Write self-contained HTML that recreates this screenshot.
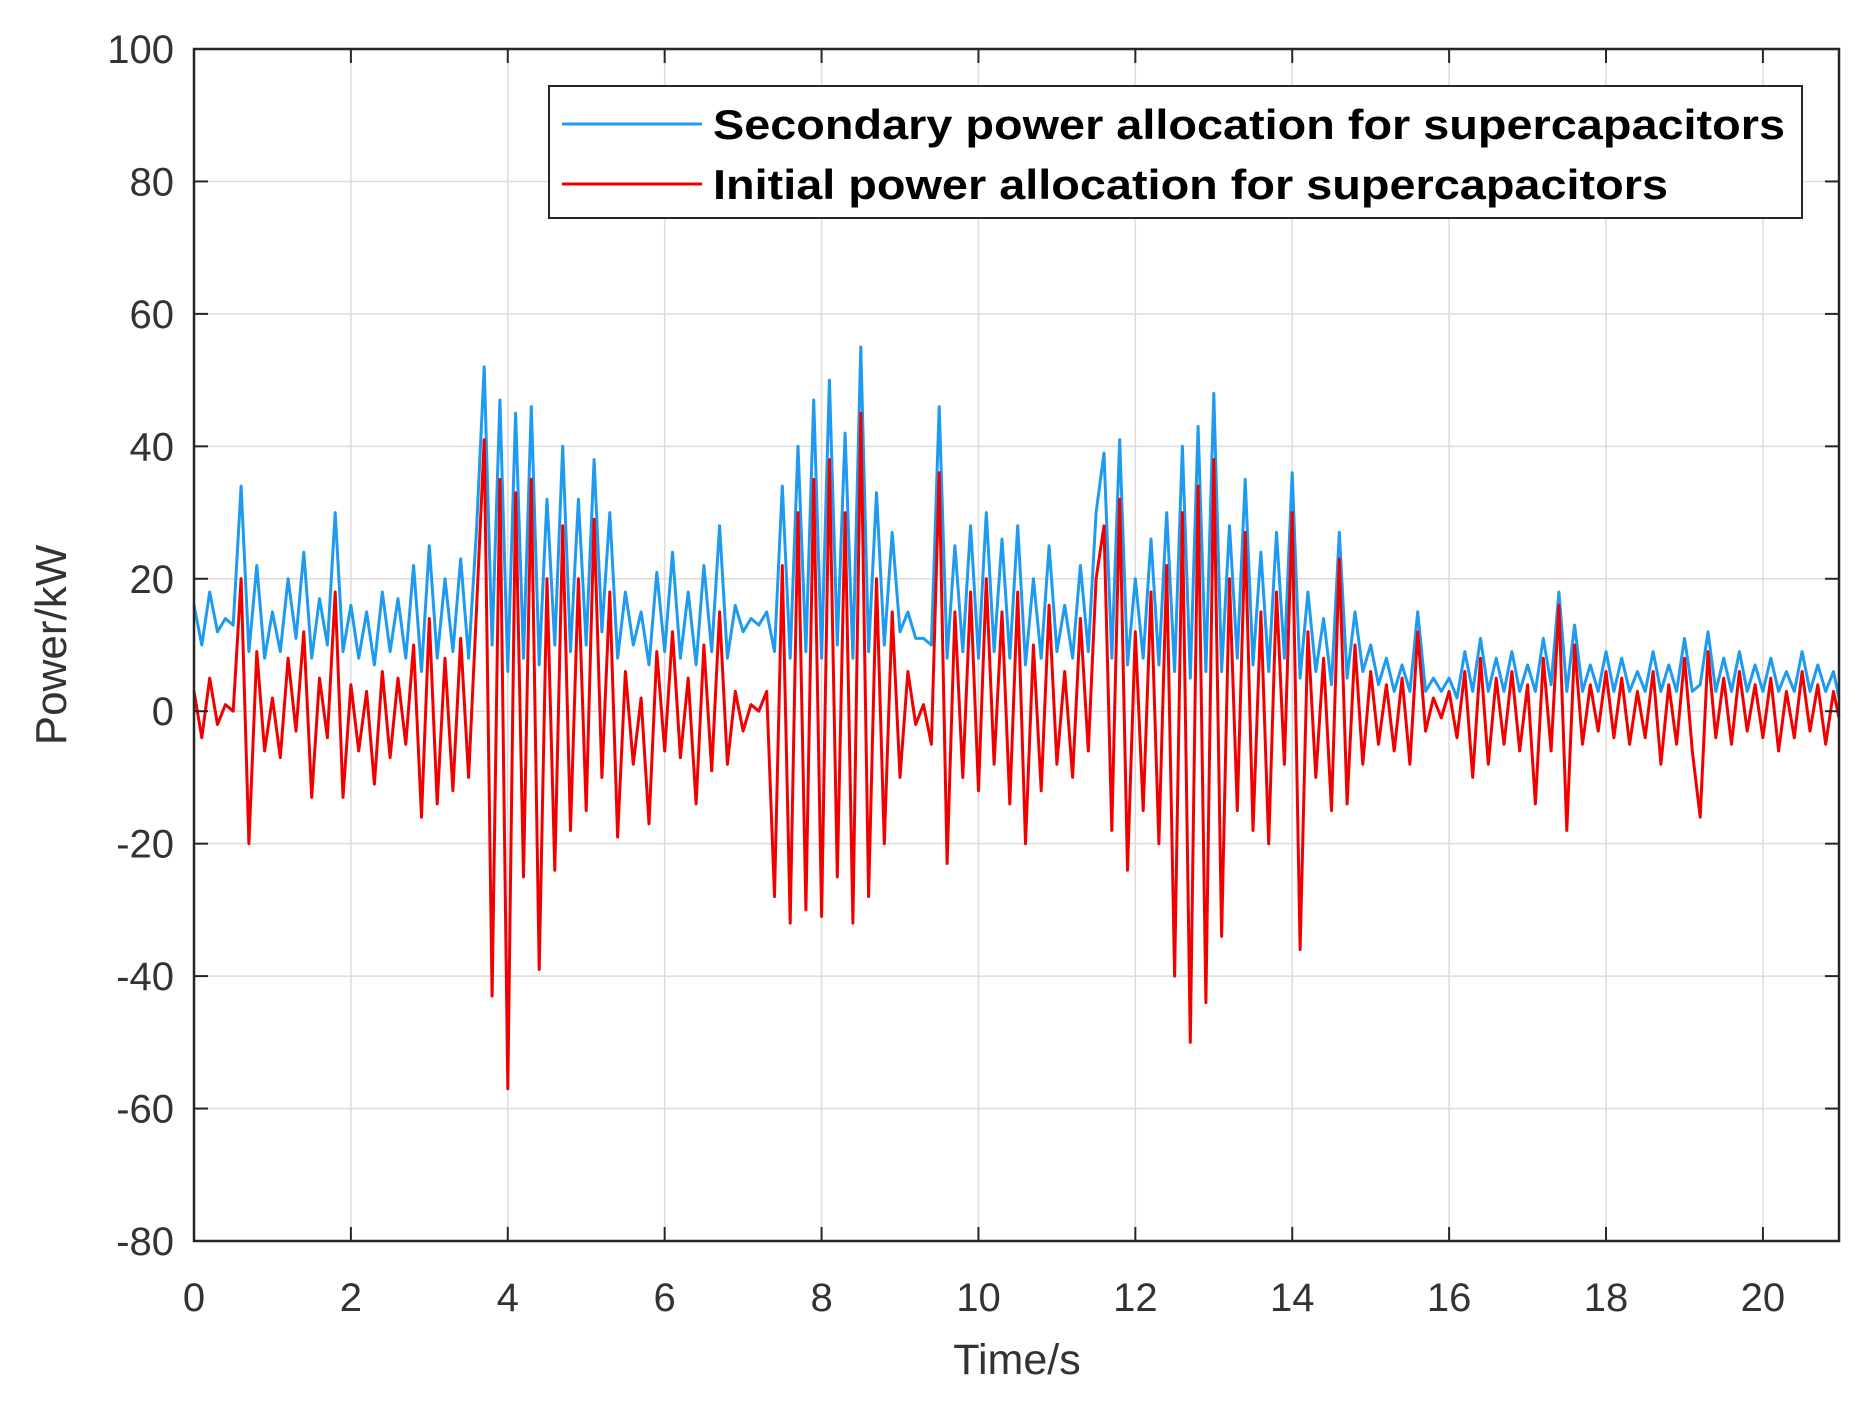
<!DOCTYPE html>
<html><head><meta charset="utf-8"><style>
html,body{margin:0;padding:0;background:#fff;}
svg{display:block;font-family:"Liberation Sans",sans-serif;}
</style></head><body>
<svg id="chart" width="1864" height="1406" viewBox="0 0 1864 1406">
<g id="grid"></g>
<g id="series"></g>
<rect x="194" y="49" width="1645" height="1192" fill="none" stroke="#262626" stroke-width="2.5"/>
<g id="ticks"></g>
<text x="1017" y="1374" text-anchor="middle" font-size="43" fill="#333">Time/s</text>
<text x="0" y="0" transform="translate(66,645) rotate(-90)" text-anchor="middle" font-size="44" fill="#333">Power/kW</text>
<g>
<rect x="549" y="86" width="1253" height="132" fill="#fff" stroke="#262626" stroke-width="2"/>
<line x1="562" y1="124" x2="702" y2="124" stroke="#1e9bf0" stroke-width="3"/>
<text x="713" y="139" font-size="42" font-weight="bold" fill="#000" textLength="1072" lengthAdjust="spacingAndGlyphs">Secondary power allocation for supercapacitors</text>
<line x1="562" y1="184" x2="702" y2="184" stroke="#f20000" stroke-width="3"/>
<text x="713" y="199" font-size="42" font-weight="bold" fill="#000" textLength="955" lengthAdjust="spacingAndGlyphs">Initial power allocation for supercapacitors</text>
</g>
</svg>
<script>
const dt = 0.1;
const xTicks = [0,2,4,6,8,10,12,14,16,18,20];
const yTicks = [100,80,60,40,20,0,-20,-40,-60,-80];
const initialPower = [
3,-4,5,-2,1,0,20,-20,9,-6,
2,-7,8,-3,12,-13,5,-4,18,-13,
4,-6,3,-11,6,-7,5,-5,10,-16,
14,-14,8,-12,11,-10,15,41,-43,35,
-57,33,-25,35,-39,20,-24,28,-18,20,
-15,29,-10,18,-19,6,-8,2,-17,9,
-6,12,-7,5,-14,10,-9,15,-8,3,
-3,1,0,3,-28,22,-32,30,-30,35,
-31,38,-25,30,-32,45,-28,20,-20,15,
-10,6,-2,1,-5,36,-23,15,-10,18,
-12,20,-8,15,-14,18,-20,10,-12,16,
-8,6,-10,14,-6,20,28,-18,32,-24,
12,-15,18,-20,22,-40,30,-50,34,-44,
38,-34,20,-15,27,-18,15,-20,18,-8,
30,-36,12,-10,8,-15,23,-14,10,-8,
6,-5,4,-6,5,-8,12,-3,2,-1,
3,-4,6,-10,8,-8,5,-5,6,-6,
4,-14,8,-6,16,-18,10,-5,4,-3,
6,-4,5,-5,3,-4,6,-8,4,-5,
8,-6,-16,9,-4,5,-5,6,-3,4,
-4,5,-6,3,-4,6,-3,4,-5,3,
-1];
const secondaryPower = [
16,10,18,12,14,13,34,9,22,8,
15,9,20,11,24,8,17,10,30,9,
16,8,15,7,18,9,17,8,22,6,
25,8,20,9,23,8,27,52,10,47,
6,45,8,46,7,32,10,40,9,32,
10,38,12,30,8,18,10,15,7,21,
9,24,8,18,7,22,9,28,8,16,
12,14,13,15,9,34,8,40,9,47,
8,50,10,42,8,55,9,33,10,27,
12,15,11,11,10,46,8,25,9,28,
8,30,9,26,8,28,7,20,8,25,
9,16,8,22,9,30,39,8,41,7,
20,8,26,7,30,6,40,5,43,6,
48,6,28,8,35,7,24,6,27,8,
36,5,18,6,14,4,27,5,15,6,
10,4,8,3,7,3,15,3,5,3,
5,2,9,3,11,3,8,3,9,3,
7,3,11,4,18,3,13,3,7,3,
9,3,8,3,6,3,9,3,7,3,
11,3,4,12,3,8,3,9,3,7,
3,8,3,6,3,9,3,7,3,6,
2];
const X0=194,X1=1839,Y0=49,Y1=1241,XMIN=0,XMAX=20.97,YMIN=-80,YMAX=100;
const xs=v=>X0+(v-XMIN)/(XMAX-XMIN)*(X1-X0);
const ys=v=>Y1-(v-YMIN)/(YMAX-YMIN)*(Y1-Y0);
const NS="http://www.w3.org/2000/svg";
const grid=document.getElementById('grid'),ticks=document.getElementById('ticks'),series=document.getElementById('series');
function mk(tag,attrs,parent){const e=document.createElementNS(NS,tag);for(const k in attrs)e.setAttribute(k,attrs[k]);parent.appendChild(e);return e;}
xTicks.forEach(t=>{
  const x=xs(t);
  const g=mk('line',{x1:x,y1:Y0,x2:x,y2:Y1,stroke:'#dcdcdc','stroke-width':1.5},grid);
  
  
  const a=mk('line',{x1:x,y1:Y1,x2:x,y2:Y1-14,stroke:'#262626','stroke-width':2},ticks);
  
  
  const b=mk('line',{x1:x,y1:Y0,x2:x,y2:Y0+14,stroke:'#262626','stroke-width':2},ticks);
  
  
  const l=mk('text',{x:x,y:1311,'text-anchor':'middle','font-size':40,fill:'#333'},ticks);
  l.textContent=t;
  
  
});
yTicks.forEach(t=>{
  const y=ys(t);
  const g=mk('line',{x1:X0,y1:y,x2:X1,y2:y,stroke:'#dcdcdc','stroke-width':1.5},grid);
  
  
  const a=mk('line',{x1:X0,y1:y,x2:X0+14,y2:y,stroke:'#262626','stroke-width':2},ticks);
  
  
  const b=mk('line',{x1:X1,y1:y,x2:X1-14,y2:y,stroke:'#262626','stroke-width':2},ticks);
  
  
  const l=mk('text',{x:174,y:y+14,'text-anchor':'end','font-size':40,fill:'#333'},ticks);
  l.textContent=t;
  
  
});
function line(arr,color,name){
  const d=arr.map((v,i)=>(i?'L':'M')+xs(Math.min(i*dt,XMAX)).toFixed(1)+','+ys(v).toFixed(1)).join('');
  const p=mk('path',{d:d,fill:'none',stroke:color,'stroke-width':3,'stroke-linejoin':'round'},series);
  
  
}
line(secondaryPower,'#1e9bf0','secondary-power-line');
line(initialPower,'#f20000','initial-power-line');
</script>
</body></html>
